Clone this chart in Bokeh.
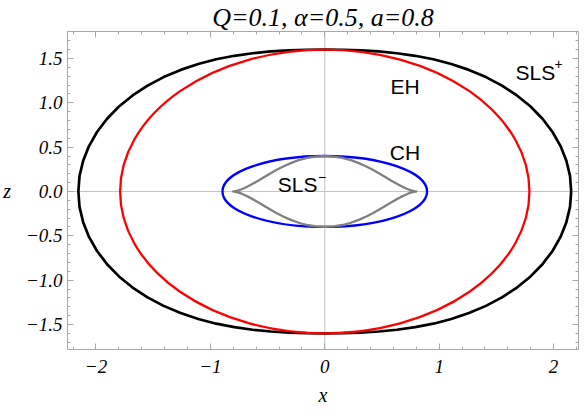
from bokeh.plotting import figure
from bokeh.models import Range1d, LinearAxis, FixedTicker, Span, Label
from bokeh.embed import file_html
from bokeh.resources import INLINE

# ---------------- data ----------------
title_text = "Q=0.1, \u03b1=0.5, a=0.8"
x_title = "x"
z_title = "z"

x_major = [-2, -1, 0, 1, 2]
x_major_labels = ["\u22122", "\u22121", "0", "1", "2"]
x_minor = [-2.2, -2.0, -1.8, -1.6, -1.4, -1.2, -1.0, -0.8, -0.6, -0.4, -0.2, 0.0,
           0.2, 0.4, 0.6, 0.8, 1.0, 1.2, 1.4, 1.6, 1.8, 2.0, 2.2]
y_major = [-1.5, -1.0, -0.5, 0.0, 0.5, 1.0, 1.5]
y_major_labels = ["\u22121.5", "\u22121.0", "\u22120.5", "0.0", "0.5", "1.0", "1.5"]
y_minor = [-1.7, -1.6, -1.5, -1.4, -1.3, -1.2, -1.1, -1.0, -0.9, -0.8, -0.7, -0.6,
           -0.5, -0.4, -0.3, -0.2, -0.1, 0.0, 0.1, 0.2, 0.3, 0.4, 0.5, 0.6, 0.7,
           0.8, 0.9, 1.0, 1.1, 1.2, 1.3, 1.4, 1.5, 1.6, 1.7, 1.8]

# horizons (ellipses): full widths / heights in x and z
horizon_names = ["EH", "CH"]
horizon_width = [3.578, 1.789]
horizon_height = [3.2, 0.8]
horizon_colors = ["#ff0000", "#0000ff"]

# outer static limit surface SLS+
sls_plus_x = [0.000, 0.156, 0.313, 0.471, 0.630, 0.790, 0.949, 1.106, 1.260, 1.409,
              1.549, 1.680, 1.799, 1.903, 1.991, 2.061, 2.112, 2.144, 2.154,
              2.144, 2.112, 2.061, 1.991, 1.903, 1.799, 1.680, 1.549, 1.409, 1.260,
              1.106, 0.949, 0.790, 0.630, 0.471, 0.313, 0.156, 0.000,
              -0.156, -0.313, -0.471, -0.630, -0.790, -0.949, -1.106, -1.260, -1.409,
              -1.549, -1.680, -1.799, -1.903, -1.991, -2.061, -2.112, -2.144, -2.154,
              -2.144, -2.112, -2.061, -1.991, -1.903, -1.799, -1.680, -1.549, -1.409,
              -1.260, -1.106, -0.949, -0.790, -0.630, -0.471, -0.313, -0.156, 0.000]
sls_plus_z = [1.600, 1.598, 1.591, 1.579, 1.559, 1.530, 1.491, 1.438, 1.371, 1.290,
              1.194, 1.083, 0.958, 0.820, 0.671, 0.512, 0.346, 0.174, 0.000,
              -0.174, -0.346, -0.512, -0.671, -0.820, -0.958, -1.083, -1.194, -1.290,
              -1.371, -1.438, -1.491, -1.530, -1.559, -1.579, -1.591, -1.598, -1.600,
              -1.598, -1.591, -1.579, -1.559, -1.530, -1.491, -1.438, -1.371, -1.290,
              -1.194, -1.083, -0.958, -0.820, -0.671, -0.512, -0.346, -0.174, 0.000,
              0.174, 0.346, 0.512, 0.671, 0.820, 0.958, 1.083, 1.194, 1.290,
              1.371, 1.438, 1.491, 1.530, 1.559, 1.579, 1.591, 1.598, 1.600]

# inner static limit surface SLS-
sls_minus_x = [0.000, 0.078, 0.154, 0.228, 0.297, 0.363, 0.424, 0.480, 0.532, 0.579,
               0.622, 0.662, 0.697, 0.727, 0.753, 0.773, 0.788, 0.797, 0.800,
               0.797, 0.788, 0.773, 0.753, 0.727, 0.697, 0.662, 0.622, 0.579, 0.532,
               0.480, 0.424, 0.363, 0.297, 0.228, 0.154, 0.078, 0.000,
               -0.078, -0.154, -0.228, -0.297, -0.363, -0.424, -0.480, -0.532, -0.579,
               -0.622, -0.662, -0.697, -0.727, -0.753, -0.773, -0.788, -0.797, -0.800,
               -0.797, -0.788, -0.773, -0.753, -0.727, -0.697, -0.662, -0.622, -0.579,
               -0.532, -0.480, -0.424, -0.363, -0.297, -0.228, -0.154, -0.078, 0.000]
sls_minus_z = [0.400, 0.394, 0.378, 0.353, 0.320, 0.282, 0.242, 0.200, 0.161, 0.124,
               0.092, 0.064, 0.042, 0.025, 0.013, 0.006, 0.002, 0.000, 0.000,
               0.000, -0.002, -0.006, -0.013, -0.025, -0.042, -0.064, -0.092, -0.124,
               -0.161, -0.200, -0.242, -0.282, -0.320, -0.353, -0.378, -0.394, -0.400,
               -0.394, -0.378, -0.353, -0.320, -0.282, -0.242, -0.200, -0.161, -0.124,
               -0.092, -0.064, -0.042, -0.025, -0.013, -0.006, -0.002, 0.000, 0.000,
               0.000, 0.002, 0.006, 0.013, 0.025, 0.042, 0.064, 0.092, 0.124,
               0.161, 0.200, 0.242, 0.282, 0.320, 0.353, 0.378, 0.394, 0.400]

# ---------------- figure ----------------
FRAME = "#a8a8a8"
SERIF = "Liberation Serif"
SANS = "Liberation Sans"

p = figure(frame_width=511, frame_height=318,
           x_range=Range1d(-2.249, 2.218), y_range=Range1d(-1.782, 1.804),
           min_border_left=67, min_border_right=4, min_border_top=31, min_border_bottom=63,
           x_axis_location=None, y_axis_location=None,
           output_backend="svg", toolbar_location=None)
p.grid.visible = False
p.outline_line_color = None
p.background_fill_color = "white"
p.border_fill_color = "white"

p.title.text = title_text
p.title.align = "center"
p.title.text_font = SERIF
p.title.text_font_style = "italic"
p.title.text_font_size = "26px"
p.title.text_color = "black"
p.title.standoff = 0


def make_axis(ticks, minor, labels, show):
    ax = LinearAxis(ticker=FixedTicker(ticks=ticks, minor_ticks=minor))
    if show:
        ax.major_label_overrides = {t: l for t, l in zip(ticks, labels)}
        ax.major_label_text_font = SERIF
        ax.major_label_text_font_style = "italic"
        ax.major_label_text_font_size = "19px"
        ax.major_label_text_color = "black"
        ax.axis_label_text_font = SERIF
        ax.axis_label_text_font_style = "italic"
        ax.axis_label_text_font_size = "20px"
        ax.axis_label_text_color = "black"
    else:
        ax.major_label_overrides = {t: "" for t in ticks}
        ax.major_label_text_font_size = "1px"
        ax.major_label_standoff = 0
    ax.axis_line_color = FRAME
    ax.axis_line_width = 1
    ax.major_tick_line_color = FRAME
    ax.minor_tick_line_color = FRAME
    ax.major_tick_in = 6
    ax.major_tick_out = 0
    ax.minor_tick_in = 3
    ax.minor_tick_out = 0
    return ax


bottom = make_axis(x_major, x_minor, x_major_labels, True)
bottom.major_label_standoff = 10
bottom.axis_label = x_title
bottom.axis_label_standoff = 8
left = make_axis(y_major, y_minor, y_major_labels, True)
left.major_label_standoff = 5
left.axis_label = z_title
left.axis_label_orientation = "horizontal"
left.axis_label_standoff = 12
top = make_axis(x_major, x_minor, x_major_labels, False)
right = make_axis(y_major, y_minor, y_major_labels, False)
p.add_layout(bottom, "below")
p.add_layout(left, "left")
p.add_layout(top, "above")
p.add_layout(right, "right")

# axes through origin
p.add_layout(Span(location=0, dimension="width", line_color="#c4c4c4", line_width=1, level="underlay"))
p.add_layout(Span(location=0, dimension="height", line_color="#c4c4c4", line_width=1, level="underlay"))

# curves
p.line(sls_plus_x, sls_plus_z, line_color="black", line_width=2.7, line_join="round")
p.ellipse(x=[0, 0], y=[0, 0], width=horizon_width, height=horizon_height,
          fill_alpha=0, line_color=horizon_colors, line_width=2.3)
p.line(sls_minus_x, sls_minus_z, line_color="#808080", line_width=2.3, line_join="round")


# curve labels
def lab(x, y, text, size="21px", align="left"):
    p.add_layout(Label(x=x, y=y, text=text, text_font=SANS, text_font_size=size,
                       text_align=align, text_baseline="alphabetic", text_color="black"))


lab(1.667, 1.337, "SLS")
lab(2.045, 1.432, "+", size="14px", align="center")
lab(0.574, 1.179, horizon_names[0])
lab(0.568, 0.440, horizon_names[1])
lab(-0.411, 0.083, "SLS")
lab(-0.024, 0.160, "\u2212", size="14px", align="center")

open("out.html", "w").write(file_html(p, INLINE))
